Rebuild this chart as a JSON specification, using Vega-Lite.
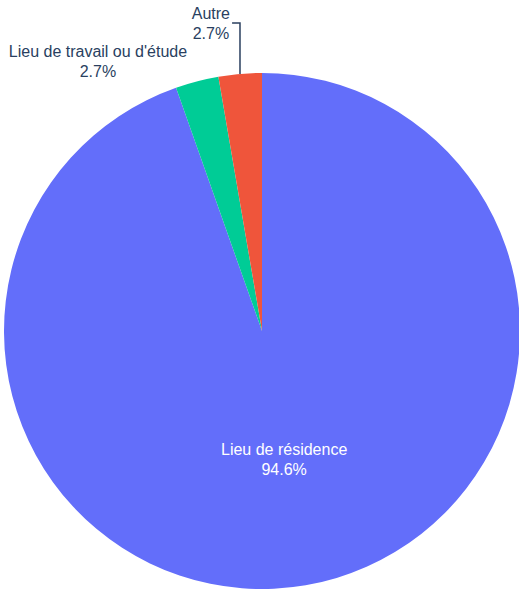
{
  "$schema": "https://vega.github.io/schema/vega-lite/v6.json",
  "width": 516,
  "height": 516,
  "autosize": {"type": "none"},
  "padding": {"left": 4, "top": 73, "right": 0, "bottom": 0},
  "background": "white",
  "config": {"view": {"stroke": null}},
  "layer": [
    {
      "data": {
        "values": [
          {"cat": "Lieu de résidence", "n": 35, "rang": 1},
          {"cat": "Lieu de travail ou d'étude", "n": 1, "rang": 2},
          {"cat": "Autre", "n": 1, "rang": 3}
        ]
      },
      "transform": [
        {"joinaggregate": [{"op": "sum", "field": "n", "as": "total"}]},
        {"stack": "n", "groupby": [], "sort": [{"field": "rang", "order": "ascending"}], "as": ["t0", "t1"]},
        {"calculate": "(datum.t0 + datum.t1) / 2", "as": "mid"},
        {"calculate": "datum.cat + '\\n' + format(datum.n / datum.total, '.1%')", "as": "label"}
      ],
      "layer": [
        {
          "mark": {"type": "arc", "outerRadius": 258, "strokeWidth": 0},
          "encoding": {
            "theta": {"field": "n", "type": "quantitative", "stack": true, "scale": {"nice": false, "zero": true}},
            "order": {"field": "rang", "type": "quantitative"},
            "color": {
              "field": "cat",
              "type": "nominal",
              "scale": {
                "domain": ["Lieu de résidence", "Lieu de travail ou d'étude", "Autre"],
                "range": ["#636efa", "#00cc96", "#ef553b"]
              },
              "legend": null
            }
          }
        },
        {
          "transform": [{"filter": "datum.rang == 1"}],
          "mark": {"type": "text", "radius": 131, "dy": -10, "color": "white", "font": "Liberation Sans", "fontSize": 16, "lineBreak": "\n", "lineHeight": 20, "baseline": "middle"},
          "encoding": {
            "theta": {"field": "mid", "type": "quantitative", "stack": null},
            "text": {"field": "label"}
          }
        },
        {
          "transform": [{"filter": "datum.rang == 2"}],
          "mark": {"type": "text", "radius": 278, "dx": -94, "dy": -10, "color": "#2a3f5f", "font": "Liberation Sans", "fontSize": 16, "lineBreak": "\n", "lineHeight": 20, "baseline": "middle"},
          "encoding": {
            "theta": {"field": "mid", "type": "quantitative", "stack": null},
            "text": {"field": "label"}
          }
        },
        {
          "transform": [{"filter": "datum.rang == 3"}],
          "mark": {"type": "text", "radius": 308, "dx": -25, "dy": -10, "color": "#2a3f5f", "font": "Liberation Sans", "fontSize": 16, "lineBreak": "\n", "lineHeight": 20, "baseline": "middle"},
          "encoding": {
            "theta": {"field": "mid", "type": "quantitative", "stack": null},
            "text": {"field": "label"}
          }
        }
      ]
    },
    {
      "data": {
        "values": [
          {"i": 1, "x": -0.116, "y": 1.194},
          {"i": 2, "x": -0.0853, "y": 1.194},
          {"i": 3, "x": -0.0853, "y": 0.996}
        ]
      },
      "mark": {"type": "line", "color": "#2a3f5f", "strokeWidth": 1.5, "clip": false},
      "encoding": {
        "x": {"field": "x", "type": "quantitative", "scale": {"domain": [-1, 1], "nice": false}, "axis": null},
        "y": {"field": "y", "type": "quantitative", "scale": {"domain": [-1, 1], "nice": false}, "axis": null},
        "order": {"field": "i"}
      }
    }
  ]
}
